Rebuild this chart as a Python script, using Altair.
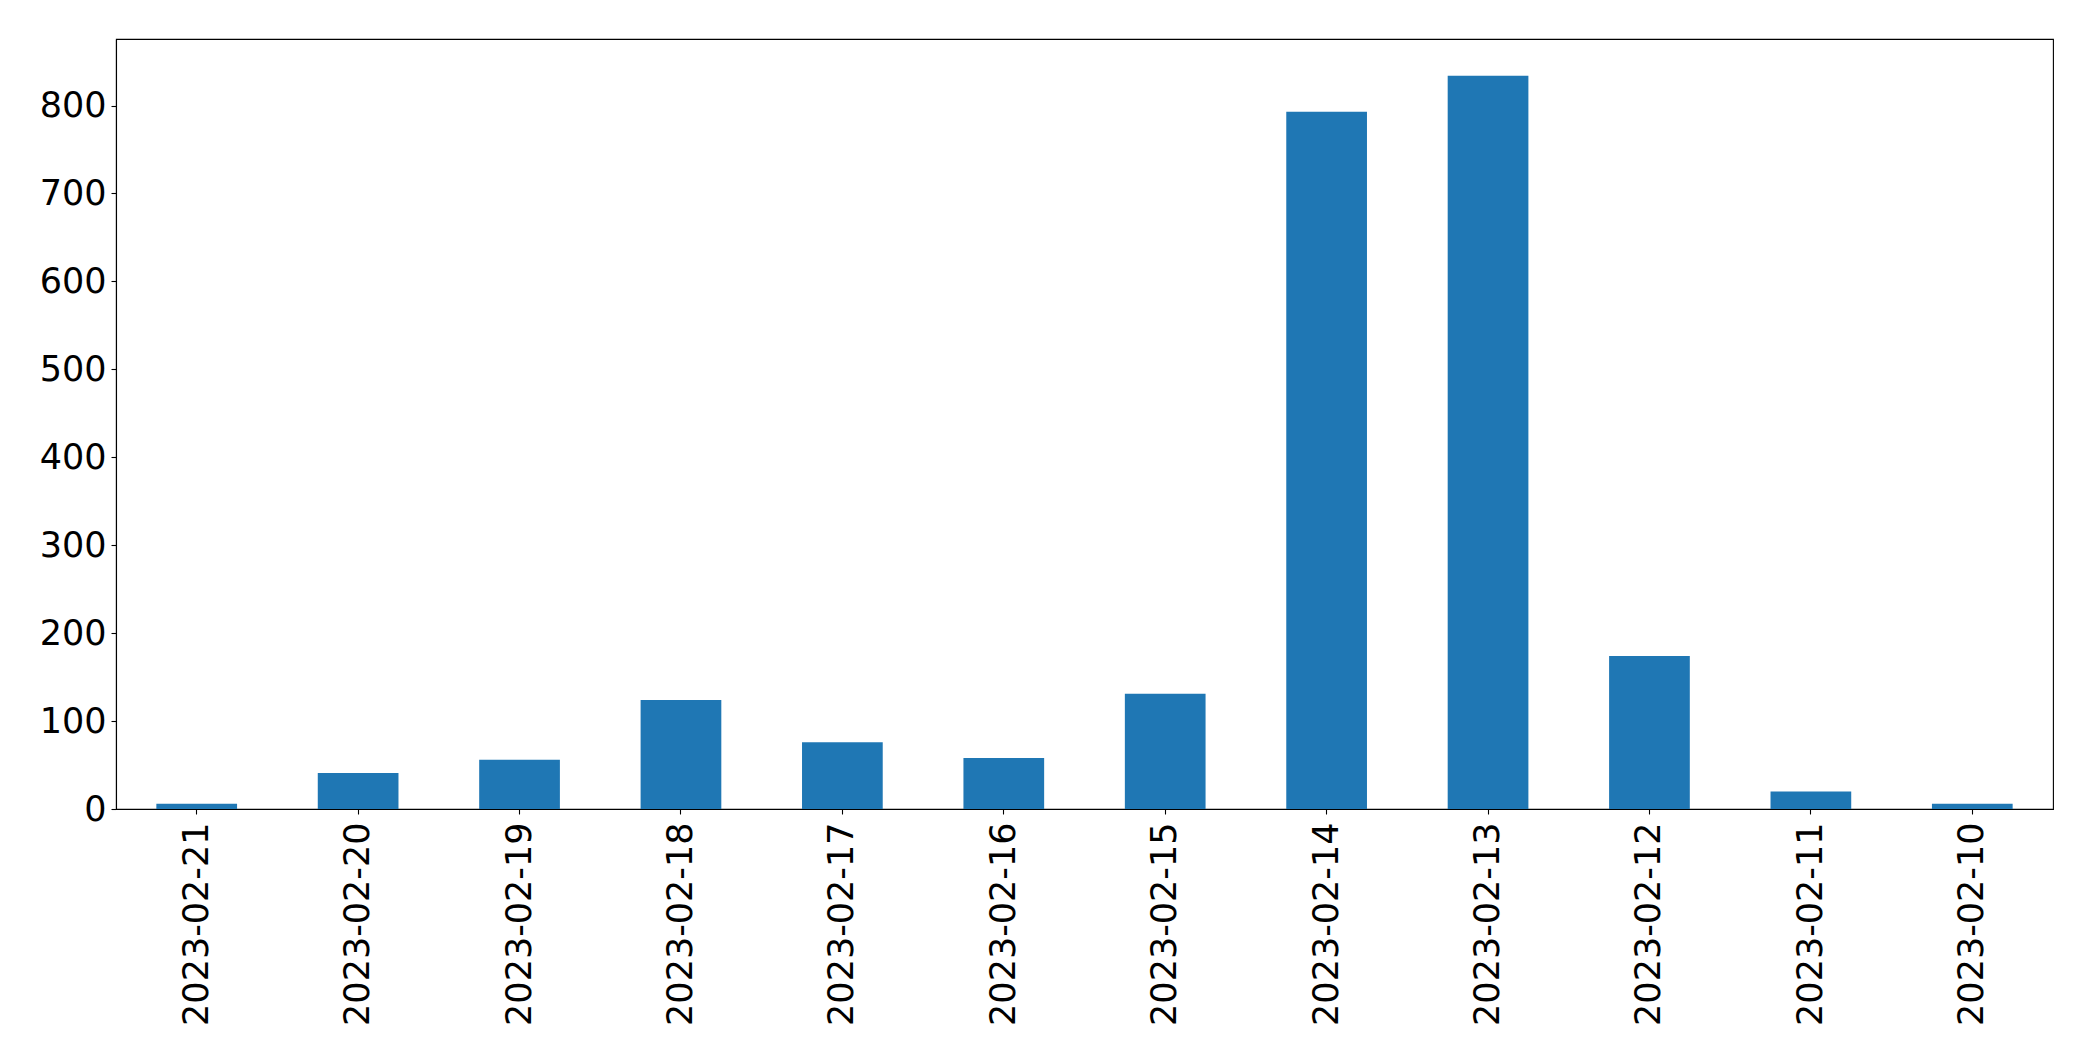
import altair as alt
import pandas as pd

dates = ["2023-02-21", "2023-02-20", "2023-02-19", "2023-02-18", "2023-02-17", "2023-02-16",
         "2023-02-15", "2023-02-14", "2023-02-13", "2023-02-12", "2023-02-11", "2023-02-10"]
counts = [6, 41, 56, 124, 76, 58, 131, 793, 834, 174, 20, 6]
y_ticks = [0, 100, 200, 300, 400, 500, 600, 700, 800]

df = pd.DataFrame({"date": dates, "count": counts})

chart = alt.Chart(df).mark_bar(color="#1f77b4").encode(
    x=alt.X("date:N", sort=None, title=None,
            scale=alt.Scale(paddingInner=0.5, paddingOuter=0.25),
            axis=alt.Axis(labelAngle=270, labelAlign="right", labelBaseline="middle",
                          labelFontSize=35, labelFont="DejaVu Sans", labelColor="black",
                          labelLimit=1000,
                          tickColor="black", tickSize=5, tickWidth=1.1, labelPadding=8,
                          domainColor="black", domainWidth=1.1, grid=False)),
    y=alt.Y("count:Q", title=None,
            scale=alt.Scale(domain=[0, 875.7], nice=False, zero=True),
            axis=alt.Axis(values=y_ticks, labelFontSize=35, labelFont="DejaVu Sans",
                          labelColor="black", tickColor="black", tickSize=5, tickWidth=1.1,
                          labelPadding=5, domainColor="black", domainWidth=1.1, grid=False)),
).properties(
    width=1937, height=770,
    background="white",
    autosize=alt.AutoSizeParams(type="none"),
    padding={"left": 108, "top": 31, "right": 30, "bottom": 240},
).configure_view(
    stroke="black", strokeWidth=1.1
)

chart.save("out.html", embed_options={"renderer": "svg", "actions": False})
